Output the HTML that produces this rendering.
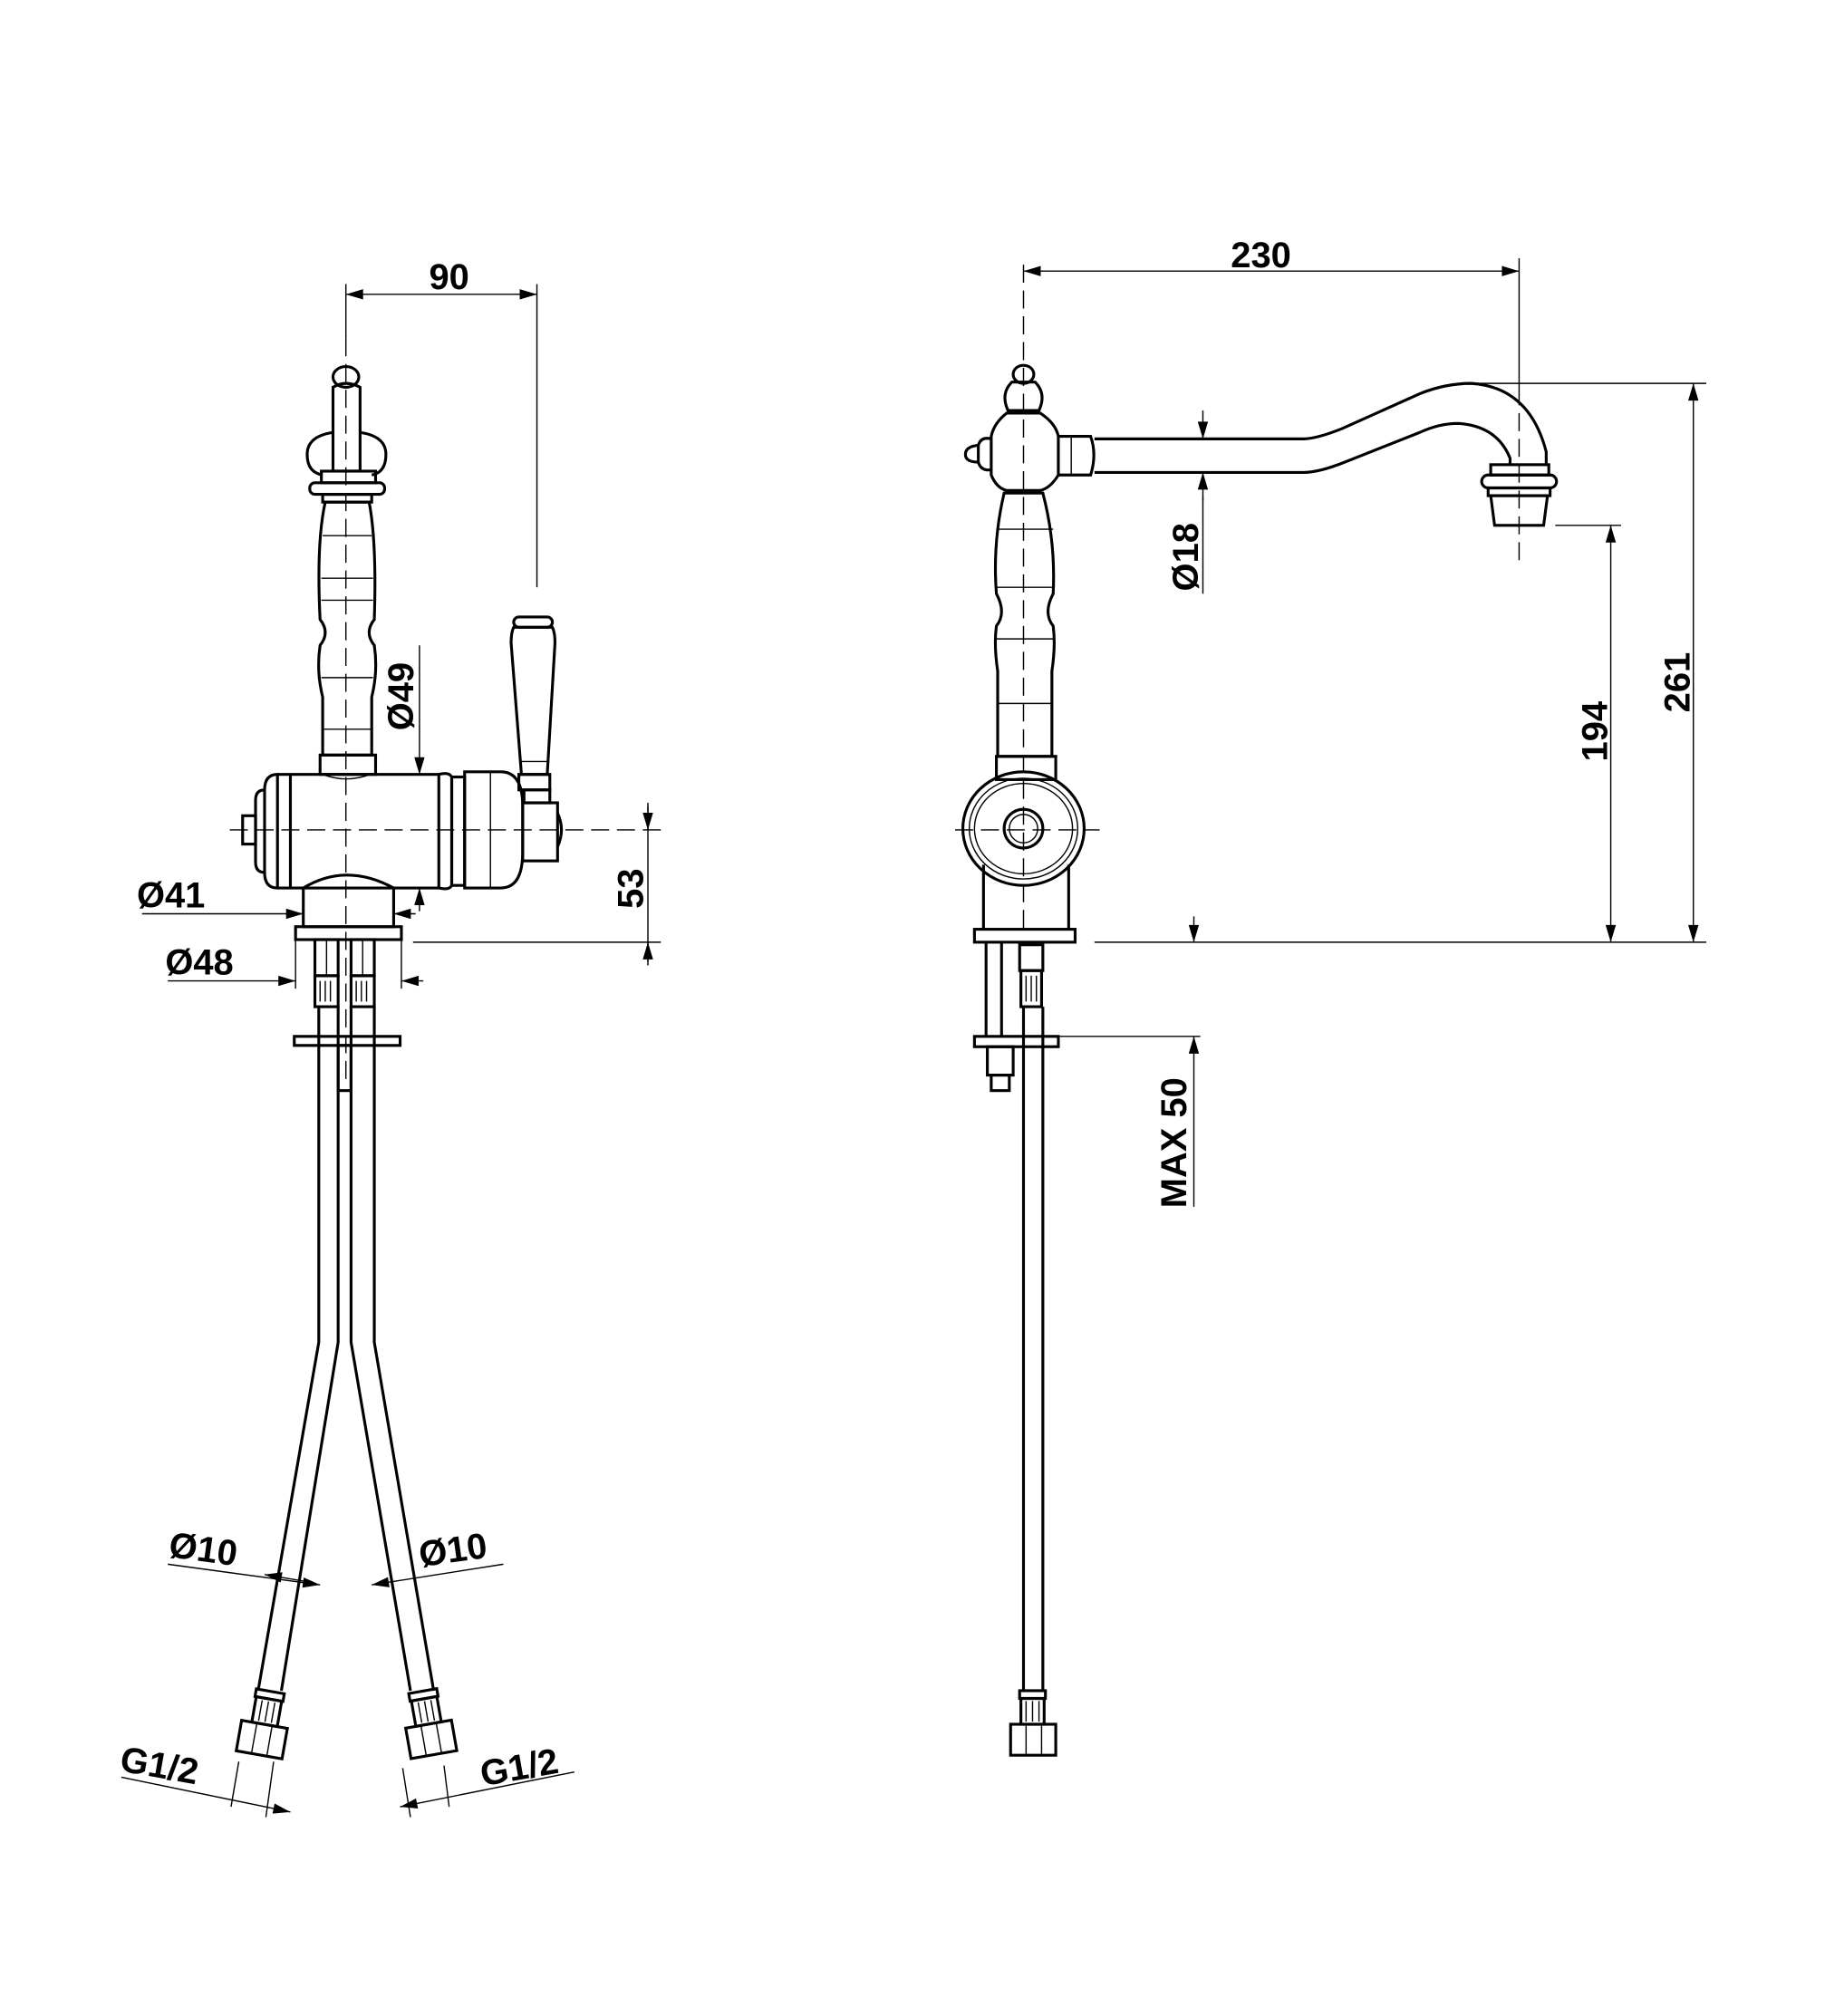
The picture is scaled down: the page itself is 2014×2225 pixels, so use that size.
<!DOCTYPE html>
<html><head><meta charset="utf-8"><style>
html,body{margin:0;padding:0;background:#fff}
svg{display:block}
text{font-family:"Liberation Sans",sans-serif;font-weight:bold;fill:#000}
.o{fill:none;stroke:#000;stroke-width:2.2}
.t{fill:none;stroke:#000;stroke-width:1}
.c{fill:none;stroke:#000;stroke-width:1;stroke-dasharray:14 6}
</style></head><body>
<svg width="2014" height="2225" viewBox="0 0 1414 1562" xmlns="http://www.w3.org/2000/svg">
<defs>
<marker id="a" viewBox="0 0 10 6" refX="10" refY="3" markerWidth="20" markerHeight="8" markerUnits="userSpaceOnUse" orient="auto-start-reverse"><path d="M0,0L10,3L0,6Z" fill="#000"/></marker>
</defs>
<rect width="1414" height="1562" fill="#fff"/>

<!-- ================= LEFT VIEW ================= -->
<line class="c" x1="268" y1="262" x2="268" y2="840"/>
<line class="c" x1="178" y1="643" x2="512" y2="643"/>
<line class="t" x1="268" y1="220" x2="268" y2="262"/>
<line class="t" x1="416" y1="220" x2="416" y2="455"/>
<line class="t" x1="268" y1="228" x2="416" y2="228" marker-start="url(#a)" marker-end="url(#a)"/>
<text x="348" y="224" font-size="28" text-anchor="middle">90</text>
<ellipse class="o" cx="268" cy="292" rx="10" ry="8"/>
<path class="o" d="M258,300 Q268,294 279,300 L279,365 L258,365 Z"/>
<path class="o" d="M258,335 Q238,338 238,352 Q238,366 250,368 M279,335 Q299,338 299,352 Q299,366 288,368"/>
<rect class="o" x="249" y="365" width="42" height="9"/>
<rect class="o" x="240" y="374" width="58" height="9" rx="4"/>
<rect class="o" x="250" y="383" width="38" height="6"/>
<path class="o" d="M252,389 L286,389 Q292,420 290,480 Q282,490 290,500 Q293,520 288,540 L288,585 L250,585 L250,540 Q245,520 248,500 Q256,490 248,480 Q245,420 252,389 Z"/>
<line class="t" x1="250" y1="415" x2="288" y2="415"/>
<line class="t" x1="249" y1="448" x2="289" y2="448"/>
<line class="t" x1="249" y1="465" x2="289" y2="465"/>
<line class="t" x1="249" y1="525" x2="289" y2="525"/>
<line class="t" x1="249" y1="565" x2="289" y2="565"/>
<rect class="o" x="248" y="585" width="43" height="15"/>
<path class="o" d="M215,600 L340,600 L340,688 L215,688"/>
<path class="o" d="M215,600 Q205,600 205,612 L205,676 Q205,688 215,688 Z"/>
<path class="o" d="M205,612 Q198,612 198,620 L198,668 Q198,676 205,676"/>
<rect class="o" x="188" y="632" width="10" height="22"/>
<line class="o" x1="225" y1="600" x2="225" y2="688"/>
<path class="o" d="M340,600 Q348,598 350,602 L350,686 Q348,690 340,688"/>
<rect class="o" x="350" y="602" width="10" height="84"/>
<path class="o" d="M360,598 L388,598 Q405,598 405,625 L405,660 Q405,688 388,688 L360,688 Z"/>
<line class="t" x1="380" y1="598" x2="380" y2="688"/>
<path class="t" d="M250,600 Q268,607 287,600"/>
<rect class="o" x="398" y="478" width="30" height="8" rx="4"/>
<path class="o" d="M398,486 Q396,490 396,498 L404,600 L424,600 L430,498 Q430,490 428,486 Z"/>
<line class="t" x1="403" y1="590" x2="425" y2="590"/>
<rect class="o" x="402" y="600" width="24" height="12"/>
<rect class="o" x="406" y="612" width="20" height="10"/>
<rect class="o" x="405" y="622" width="27" height="45"/>
<path class="o" d="M432,630 Q438,643 432,656"/>
<path class="o" d="M235,688 Q268,668 305,688 L305,718 L235,718 Z"/>
<path class="t" d="M238,686 Q268,670 302,686"/>
<rect class="o" x="229" y="718" width="82" height="10"/>
<rect class="o" x="244" y="728" width="18" height="28"/>
<rect class="o" x="272" y="728" width="18" height="28"/>
<line class="t" x1="253" y1="728" x2="253" y2="756"/><line class="t" x1="281" y1="728" x2="281" y2="756"/>
<rect class="o" x="244" y="756" width="18" height="24"/>
<rect class="o" x="272" y="756" width="18" height="24"/>
<path class="t" d="M248,760 V776 M252,760 V776 M256,760 V776 M276,760 V776 M280,760 V776 M284,760 V776"/>
<rect class="o" x="228" y="803" width="82" height="7"/>
<rect class="o" x="262" y="810" width="10" height="35"/>
<path class="o" d="M247,780 L247,1040 L200,1310 M262,780 L262,1040 L218,1310"/>
<path class="o" d="M272,780 L272,1040 L318,1310 M290,780 L290,1040 L336,1310"/>
<g transform="rotate(10 205 1330)">
<rect class="o" x="195" y="1310" width="22" height="6"/>
<rect class="o" x="196" y="1316" width="20" height="20"/>
<path class="t" d="M201,1318 V1334 M206,1318 V1334 M211,1318 V1334"/>
<rect class="o" x="188" y="1336" width="36" height="24"/>
<line class="t" x1="200" y1="1336" x2="200" y2="1360"/><line class="t" x1="212" y1="1336" x2="212" y2="1360"/>
</g>
<g transform="rotate(-10 331 1330)">
<rect class="o" x="320" y="1310" width="22" height="6"/>
<rect class="o" x="321" y="1316" width="20" height="20"/>
<path class="t" d="M326,1318 V1334 M331,1318 V1334 M336,1318 V1334"/>
<rect class="o" x="313" y="1336" width="36" height="24"/>
<line class="t" x1="325" y1="1336" x2="325" y2="1360"/><line class="t" x1="337" y1="1336" x2="337" y2="1360"/>
</g>
<line class="t" x1="110" y1="708" x2="235" y2="708" marker-end="url(#a)"/>
<line class="t" x1="322" y1="708" x2="305" y2="708" marker-end="url(#a)"/>
<text x="106" y="703" font-size="28">Ø41</text>
<line class="t" x1="229" y1="728" x2="229" y2="766"/>
<line class="t" x1="311" y1="728" x2="311" y2="766"/>
<line class="t" x1="130" y1="760" x2="229" y2="760" marker-end="url(#a)"/>
<line class="t" x1="328" y1="760" x2="311" y2="760" marker-end="url(#a)"/>
<text x="128" y="755" font-size="28">Ø48</text>
<line class="t" x1="325" y1="500" x2="325" y2="600" marker-end="url(#a)"/>
<line class="t" x1="325" y1="706" x2="325" y2="688" marker-end="url(#a)"/>
<text transform="translate(320,566) rotate(-90)" font-size="28">Ø49</text>
<line class="t" x1="320" y1="730" x2="512" y2="730"/>
<line class="t" x1="502" y1="625" x2="502" y2="745"/>
<line class="t" x1="502" y1="622" x2="502" y2="643" marker-end="url(#a)"/>
<line class="t" x1="502" y1="748" x2="502" y2="730" marker-end="url(#a)"/>
<text transform="translate(498,704) rotate(-90)" font-size="28">53</text>
<line class="t" x1="130" y1="1212" x2="248" y2="1228" marker-end="url(#a)"/>
<line class="t" x1="205" y1="1220" x2="235" y2="1225" marker-start="url(#a)"/>
<text transform="translate(130,1206) rotate(8)" font-size="28">Ø10</text>
<line class="t" x1="390" y1="1212" x2="288" y2="1228" marker-end="url(#a)"/>
<text transform="translate(326,1214) rotate(-8)" font-size="28">Ø10</text>
<line class="t" x1="94" y1="1377" x2="225" y2="1404" marker-end="url(#a)"/>
<line class="t" x1="185" y1="1365" x2="179" y2="1400"/>
<line class="t" x1="212" y1="1365" x2="206" y2="1408"/>
<text transform="translate(92,1372) rotate(10)" font-size="28">G1/2</text>
<line class="t" x1="445" y1="1373" x2="310" y2="1400" marker-end="url(#a)"/>
<line class="t" x1="312" y1="1370" x2="318" y2="1408"/>
<line class="t" x1="344" y1="1368" x2="348" y2="1400"/>
<text transform="translate(374,1384) rotate(-10)" font-size="28">G1/2</text>

<!-- ================= RIGHT VIEW ================= -->
<line class="c" x1="793" y1="205" x2="793" y2="720"/>
<line class="c" x1="740" y1="643" x2="852" y2="643"/>
<line class="t" x1="1177" y1="200" x2="1177" y2="300"/>
<line class="t" x1="1177" y1="300" x2="1177" y2="440" stroke-dasharray="14 6"/>
<line class="t" x1="793" y1="210" x2="1177" y2="210" marker-start="url(#a)" marker-end="url(#a)"/>
<text x="977" y="207" font-size="28" text-anchor="middle">230</text>
<ellipse class="o" cx="793" cy="290" rx="8" ry="7"/>
<path class="o" d="M784,296 Q775,305 781,318 L805,318 Q811,305 802,296 Z"/>
<path class="o" d="M780,320 L806,320 Q818,328 820,338 L820,368 Q814,378 806,380 L780,380 Q772,378 768,368 L768,338 Q770,328 780,320 Z"/>
<path class="o" d="M768,340 Q760,338 758,345 L758,358 Q760,365 768,364"/>
<path class="o" d="M758,345 Q748,346 748,352 Q748,358 758,358"/>
<path class="o" d="M820,338 L845,338 Q850,352 845,368 L820,368"/>
<line class="t" x1="830" y1="338" x2="830" y2="368"/>
<path class="o" d="M848,340 L1010,340 Q1020,340 1040,332 L1100,305 Q1120,297 1140,297 Q1185,300 1198,350 L1198,360"/>
<path class="o" d="M848,366 L1010,366 Q1022,366 1042,358 L1100,335 Q1115,328 1130,328 Q1160,330 1170,355 L1170,360"/>
<rect class="o" x="1155" y="360" width="45" height="8"/>
<rect class="o" x="1148" y="368" width="58" height="10" rx="5"/>
<rect class="o" x="1153" y="378" width="48" height="6"/>
<path class="o" d="M1155,384 L1199,384 L1196,407 L1158,407 Z"/>
<line class="t" x1="932" y1="318" x2="932" y2="340" marker-end="url(#a)"/>
<line class="t" x1="932" y1="388" x2="932" y2="366" marker-end="url(#a)"/>
<line class="t" x1="932" y1="385" x2="932" y2="460"/>
<text transform="translate(928,458) rotate(-90)" font-size="28">Ø18</text>
<path class="o" d="M778,382 L808,382 Q818,420 816,460 Q808,475 816,485 Q818,500 815,520 L815,586 L773,586 L773,520 Q770,500 772,485 Q780,475 772,460 Q769,420 778,382 Z"/>
<line class="t" x1="772" y1="410" x2="816" y2="410"/>
<line class="t" x1="772" y1="455" x2="816" y2="455"/>
<line class="t" x1="772" y1="495" x2="816" y2="495"/>
<line class="t" x1="772" y1="545" x2="816" y2="545"/>
<rect class="o" x="772" y="586" width="46" height="18"/>
<line class="o" x1="762" y1="670" x2="762" y2="720"/>
<line class="o" x1="828" y1="670" x2="828" y2="720"/>
<ellipse class="o" cx="793" cy="642" rx="47" ry="44"/>
<ellipse class="t" cx="793" cy="642" rx="42" ry="39"/>
<ellipse class="t" cx="793" cy="642" rx="38" ry="35"/>
<circle class="o" cx="793" cy="642" r="15"/>
<circle class="t" cx="793" cy="642" r="11"/>
<rect class="o" x="755" y="720" width="78" height="10"/>
<line class="o" x1="764" y1="730" x2="764" y2="803"/>
<line class="o" x1="776" y1="730" x2="776" y2="803"/>
<rect class="o" x="790" y="732" width="18" height="20"/>
<rect class="o" x="791" y="752" width="16" height="28"/>
<path class="t" d="M795,756 V776 M799,756 V776 M803,756 V776"/>
<rect class="o" x="755" y="803" width="65" height="8"/>
<rect class="o" x="765" y="811" width="20" height="22"/>
<rect class="o" x="768" y="833" width="14" height="12"/>
<path class="o" d="M793,780 L793,1310 M808,780 L808,1310"/>
<rect class="o" x="790" y="1310" width="20" height="6"/>
<rect class="o" x="791" y="1316" width="18" height="20"/>
<path class="t" d="M795,1318 V1334 M800,1318 V1334 M805,1318 V1334"/>
<rect class="o" x="783" y="1336" width="35" height="24"/>
<line class="t" x1="795" y1="1336" x2="795" y2="1360"/><line class="t" x1="807" y1="1336" x2="807" y2="1360"/>
<line class="t" x1="848" y1="730" x2="1322" y2="730"/>
<line class="t" x1="1205" y1="407" x2="1256" y2="407"/>
<line class="t" x1="1140" y1="297" x2="1322" y2="297"/>
<line class="t" x1="1248" y1="407" x2="1248" y2="730" marker-start="url(#a)" marker-end="url(#a)"/>
<line class="t" x1="1312" y1="297" x2="1312" y2="730" marker-start="url(#a)" marker-end="url(#a)"/>
<text transform="translate(1245,590) rotate(-90)" font-size="28">194</text>
<text transform="translate(1309,552) rotate(-90)" font-size="28">261</text>
<line class="t" x1="820" y1="803" x2="930" y2="803"/>
<line class="t" x1="925" y1="710" x2="925" y2="730" marker-end="url(#a)"/>
<line class="t" x1="925" y1="935" x2="925" y2="803" marker-end="url(#a)"/>
<text transform="translate(919,936) rotate(-90)" font-size="28">MAX 50</text>
</svg>
</body></html>
